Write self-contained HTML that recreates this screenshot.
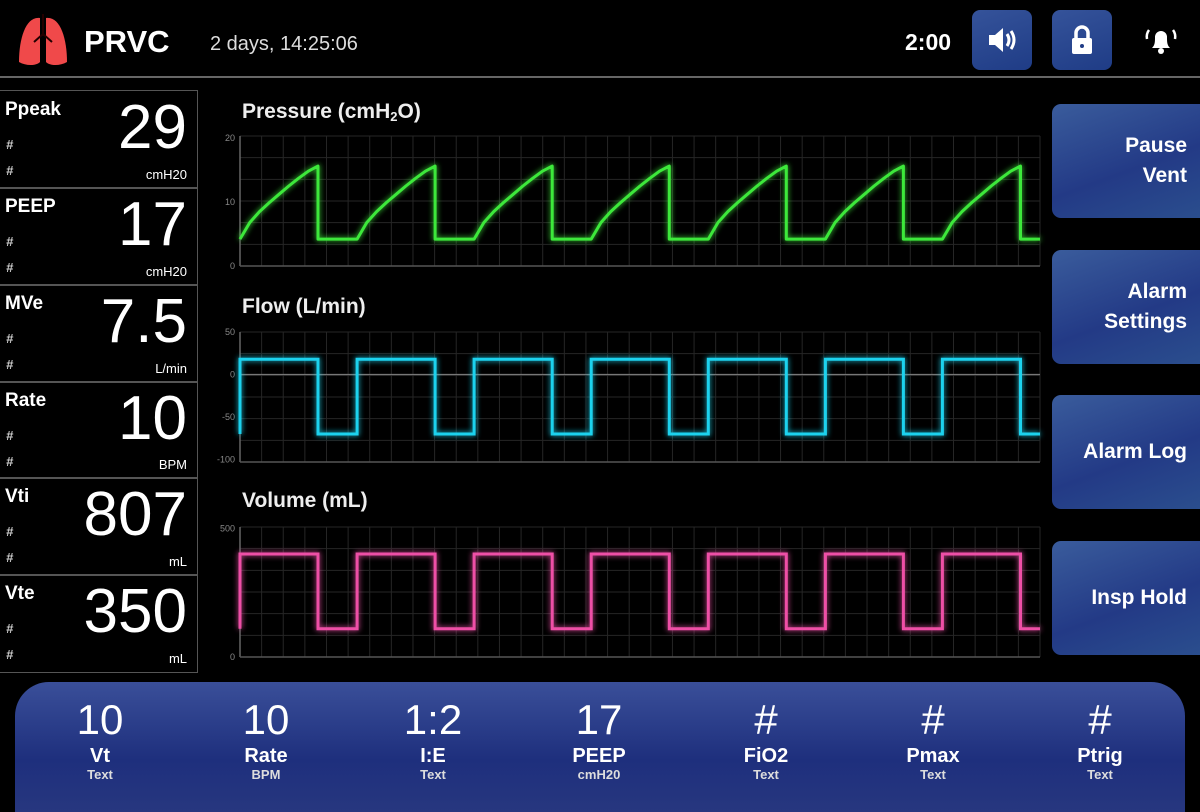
<!DOCTYPE html>
<html><head><meta charset="utf-8">
<style>
*{box-sizing:border-box;margin:0;padding:0}
body{width:1200px;height:800px;background:#000;overflow:hidden;font-family:"Liberation Sans","DejaVu Sans",sans-serif;color:#fff;position:relative}
.abs{position:absolute}
.hdr-line{left:0;top:76px;width:1200px;height:2px;background:#666}
.box{position:absolute;left:0;width:198px;border:1.5px solid #555;border-left:none}
.box .lbl{position:absolute;left:5px;top:8px;font-size:19px;font-weight:bold}
.box .h1,.box .h2{position:absolute;left:6px;font-size:13px;color:#ccc;font-style:italic;font-weight:bold}
.box .h1{top:46px}.box .h2{top:72px}
.box .val{position:absolute;right:10px;top:2px;font-size:62px;line-height:70px}
.box .unit{position:absolute;right:10px;bottom:6px;font-size:13px}
.btn{position:absolute;left:1052px;width:160px;border-radius:9px;background:linear-gradient(160deg,#3a5c9c,#233a86 55%,#2b4f8e);font-size:21px;font-weight:bold;text-align:right;padding-right:25px;display:flex;align-items:center;justify-content:flex-end;line-height:30px}
.icon-btn{position:absolute;top:10px;width:60px;height:60px;border-radius:8px;background:linear-gradient(160deg,#35539a,#1f3c86)}
.bar{left:15px;top:682px;width:1170px;height:130px;border-radius:34px 34px 0 0;background:linear-gradient(180deg,#3a4f99,#1e2f7d 60%,#27377f)}
.set{position:absolute;top:0;width:120px;text-align:center}
.set .v{font-size:42px;line-height:44px;margin-top:16px}
.set .n{font-size:20px;font-weight:bold;line-height:22px;margin-top:3px}
.set .u{font-size:13px;font-weight:bold;color:#ddd}
</style></head><body>
<svg class="abs" style="left:16px;top:12px" width="54" height="56" viewBox="0 0 54 56">
<path d="M24 6 C10 4 3 26 3 50 C10 54 20 54 24 50 Z" fill="#f0494a"/>
<path d="M30 6 C44 4 51 26 51 50 C44 54 34 54 30 50 Z" fill="#f0494a"/>
<path d="M27 2 V24 M27 22 L18 30 M27 22 L36 30" stroke="#200" stroke-width="2" fill="none"/>
</svg>
<div class="abs" style="left:84px;top:24px;font-size:31px;font-weight:bold">PRVC</div>
<div class="abs" style="left:210px;top:33px;font-size:20px;color:#ddd">2 days, 14:25:06</div>
<div class="abs" style="left:905px;top:29px;font-size:23px;font-weight:bold">2:00</div>
<div class="icon-btn" style="left:972px"><svg width="60" height="60"><path d="M17 25h6l8-7v24l-8-7h-6z" fill="#fff"/><path d="M35 24q4 6 0 12M39 21q6 9 0 18" stroke="#fff" stroke-width="3" fill="none"/></svg></div>
<div class="icon-btn" style="left:1052px"><svg width="60" height="60"><rect x="20" y="28" width="20" height="16" rx="2" fill="#fff"/><path d="M24 28v-5a6 6 0 0 1 12 0v5" stroke="#fff" stroke-width="3.5" fill="none"/><circle cx="30" cy="36" r="2" fill="#1f3c86"/></svg></div>
<svg class="abs" style="left:1143px;top:22px" width="36" height="36"><path d="M9 26c3-3 3-6 3-11a6 6 0 0 1 12 0c0 5 0 8 3 11z" fill="#fff"/><circle cx="18" cy="29" r="3" fill="#fff"/><path d="M6 8q-3 4-2 9M30 8q3 4 2 9" stroke="#fff" stroke-width="2.5" fill="none"/></svg>
<div class="abs hdr-line"></div>

<div class="box" style="top:90px;height:99px"><div class="lbl">Ppeak</div><div class="h1">#</div><div class="h2">#</div><div class="val">29</div><div class="unit">cmH20</div></div>
<div class="box" style="top:187px;height:99px"><div class="lbl">PEEP</div><div class="h1">#</div><div class="h2">#</div><div class="val">17</div><div class="unit">cmH20</div></div>
<div class="box" style="top:284px;height:99px"><div class="lbl">MVe</div><div class="h1">#</div><div class="h2">#</div><div class="val">7.5</div><div class="unit">L/min</div></div>
<div class="box" style="top:381px;height:98px"><div class="lbl">Rate</div><div class="h1">#</div><div class="h2">#</div><div class="val">10</div><div class="unit">BPM</div></div>
<div class="box" style="top:477px;height:99px"><div class="lbl">Vti</div><div class="h1">#</div><div class="h2">#</div><div class="val">807</div><div class="unit">mL</div></div>
<div class="box" style="top:574px;height:99px"><div class="lbl">Vte</div><div class="h1">#</div><div class="h2">#</div><div class="val">350</div><div class="unit">mL</div></div>

<svg id="charts" class="abs" style="left:0;top:0" width="1200" height="680">
<defs><filter id="glow" x="-5%" y="-20%" width="110%" height="140%"><feGaussianBlur stdDeviation="3" result="b"/><feMerge><feMergeNode in="b"/><feMergeNode in="SourceGraphic"/></feMerge></filter></defs>
</svg>

<div class="btn" style="top:104px;height:114px">Pause<br>Vent</div>
<div class="btn" style="top:250px;height:114px">Alarm<br>Settings</div>
<div class="btn" style="top:395px;height:114px">Alarm Log</div>
<div class="btn" style="top:541px;height:114px">Insp Hold</div>

<div class="abs bar">
<div class="set" style="left:25px"><div class="v">10</div><div class="n">Vt</div><div class="u">Text</div></div>
<div class="set" style="left:191px"><div class="v">10</div><div class="n">Rate</div><div class="u">BPM</div></div>
<div class="set" style="left:358px"><div class="v">1:2</div><div class="n">I:E</div><div class="u">Text</div></div>
<div class="set" style="left:524px"><div class="v">17</div><div class="n">PEEP</div><div class="u">cmH20</div></div>
<div class="set" style="left:691px"><div class="v">#</div><div class="n">FiO2</div><div class="u">Text</div></div>
<div class="set" style="left:858px"><div class="v">#</div><div class="n">Pmax</div><div class="u">Text</div></div>
<div class="set" style="left:1025px"><div class="v">#</div><div class="n">Ptrig</div><div class="u">Text</div></div>
</div>

<script>
// Data (time in seconds)
const breathStarts = [0, 6, 12, 18, 24, 30, 36];
const inspTime = 4;
const totalTime = 41;
const pressureRise = [4.2, 6.8, 8.5, 9.9, 11.2, 12.5, 13.7, 14.8, 15.6];
const pressurePeep = 4.2;
const flowInsp = 18;
const flowExp = -70;
const volumeInsp = 400;
const volumeExp = 110;
const pressureTicks = ["20","10","0"];
const pressureTickVals = [20,10,0];
const flowTickVals = [50,0,-50,-100];
const flowTicks = ["50","0","-50","-100"];
const volumeTickVals = [500,0];
const volumeTicks = ["500","0"];

const NS = "http://www.w3.org/2000/svg";
const svg = document.getElementById('charts');
const X0 = 240, X1 = 1040;
const xs = t => X0 + (t / totalTime) * (X1 - X0);
function mk(tag, attrs){const e=document.createElementNS(NS,tag);for(const k in attrs)e.setAttribute(k,attrs[k]);svg.appendChild(e);return e;}

function panel(name, title, titleY, top, bottom, ymin, ymax, tickVals, tickLabels, zeroLine){
  const ys = v => bottom - (v - ymin) / (ymax - ymin) * (bottom - top);
  const t = mk('text',{x:242,y:titleY,fill:'#eee','font-size':21,'font-weight':'bold','font-family':'Liberation Sans, sans-serif'});
  
  
  t.innerHTML = title;
  const step = (X1 - X0) / 37;
  for(let i=1;i<=37;i++){const gx=X0+i*step;const l=mk('line',{x1:gx,x2:gx,y1:top,y2:bottom,stroke:'#262626','stroke-width':1});
    
    }
  for(let i=0;i<=6;i++){const gy=top+(bottom-top)*i/6;const l=mk('line',{x1:X0,x2:X1,y1:gy,y2:gy,stroke:'#262626','stroke-width':1});
    
    }
  const ax=mk('line',{x1:X0,x2:X0,y1:top,y2:bottom,stroke:'#666','stroke-width':1.5});
  
  
  const bx=mk('line',{x1:X0,x2:X1,y1:bottom,y2:bottom,stroke:'#555','stroke-width':1.5});
  
  
  if(zeroLine){const z=mk('line',{x1:X0,x2:X1,y1:ys(0),y2:ys(0),stroke:'#777','stroke-width':1.2});
    
    }
  tickVals.forEach((v,i)=>{const tt=mk('text',{x:235,y:ys(v)+3,fill:'#888','font-size':9,'text-anchor':'end','font-family':'Liberation Sans, sans-serif'});
    
    
    tt.textContent=tickLabels[i];});
  return ys;
}

// Pressure
const yp = panel('pressure','Pressure (cmH<tspan font-size="13" dy="3">2</tspan><tspan dy="-3">O)</tspan>',118,136,266,0,20.3,pressureTickVals,pressureTicks,false);
let d='';
breathStarts.forEach((s,bi)=>{
  pressureRise.forEach((v,i)=>{const t=s+inspTime*i/(pressureRise.length-1);d+=(bi===0&&i===0?'M':'L')+xs(t).toFixed(1)+' '+yp(v).toFixed(1)+' ';});
  d+='L'+xs(s+inspTime).toFixed(1)+' '+yp(pressurePeep).toFixed(1)+' ';
  const next = bi+1<breathStarts.length?breathStarts[bi+1]:totalTime;
  d+='L'+xs(next).toFixed(1)+' '+yp(pressurePeep).toFixed(1)+' ';
});
const pl=mk('path',{d:d,stroke:'#3ee83a','stroke-width':3,fill:'none',filter:'url(#glow)','stroke-linejoin':'round'});



function square(ys,hi,lo,color,name){
  let d='';
  breathStarts.forEach((s,bi)=>{
    if(bi===0) d+='M'+xs(s).toFixed(1)+' '+ys(lo).toFixed(1)+' ';
    d+='L'+xs(s).toFixed(1)+' '+ys(hi).toFixed(1)+' L'+xs(s+inspTime).toFixed(1)+' '+ys(hi).toFixed(1)+' L'+xs(s+inspTime).toFixed(1)+' '+ys(lo).toFixed(1)+' ';
    const next = bi+1<breathStarts.length?breathStarts[bi+1]:totalTime;
    d+='L'+xs(next).toFixed(1)+' '+ys(lo).toFixed(1)+' ';
  });
  const p=mk('path',{d:d,stroke:color,'stroke-width':3,fill:'none',filter:'url(#glow)'});
  
  
}
const yf = panel('flow','Flow (L/min)',313,332,462,-103,50,flowTickVals,flowTicks,true);
square(yf,flowInsp,flowExp,'#1ed2ee','flow-line');
const yv = panel('volume','Volume (mL)',507,527,657,0,505,volumeTickVals,volumeTicks,false);
square(yv,volumeInsp,volumeExp,'#ee4fa6','volume-line');
</script>
</body></html>
